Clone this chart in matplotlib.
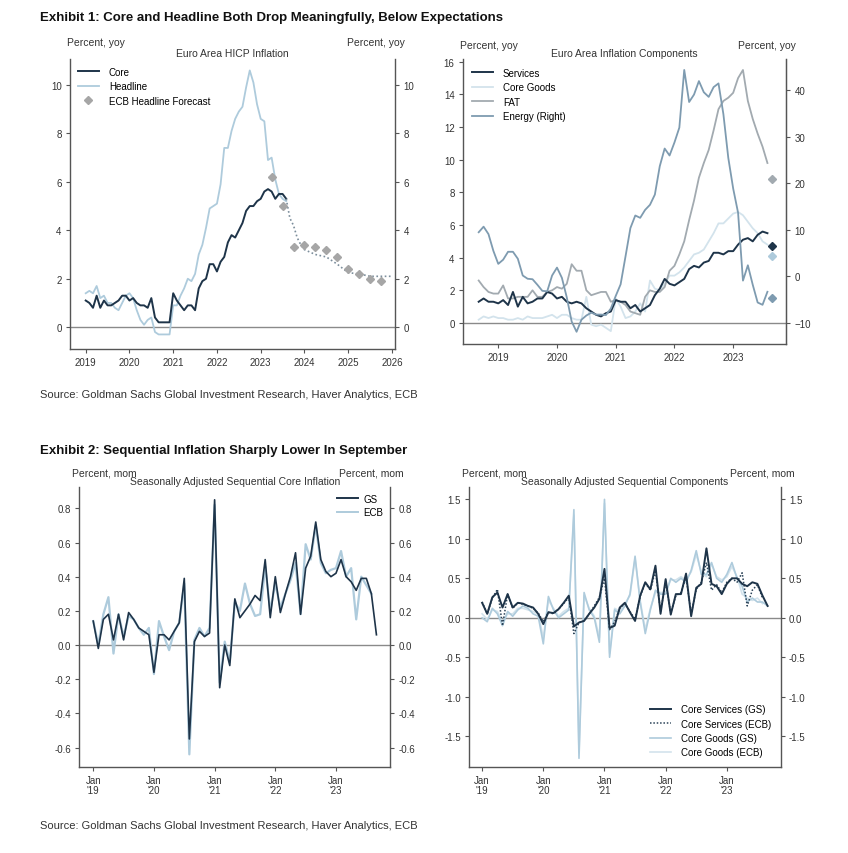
import numpy as np
import matplotlib.pyplot as plt
from matplotlib.lines import Line2D
from matplotlib.ticker import FormatStrFormatter

plt.rcParams['font.family'] = ['Liberation Sans', 'DejaVu Sans']

DARK = '#1e3449'
LIGHT = '#aecbdc'
PALE = '#d3e3ec'
GRAY = '#a6a6a6'
SPINE = '#555555'

# ---------------- Exhibit 1 left: Euro Area HICP, % yoy, monthly from Jan 2019
core = [1.1, 1.0, 0.8, 1.3, 0.8, 1.1, 0.9, 0.9, 1.0, 1.1, 1.3, 1.3,
        1.1, 1.2, 1.0, 0.9, 0.9, 0.8, 1.2, 0.4, 0.2, 0.2, 0.2, 0.2,
        1.4, 1.1, 0.9, 0.7, 0.9, 0.9, 0.7, 1.6, 1.9, 2.0, 2.6, 2.6,
        2.3, 2.7, 2.9, 3.5, 3.8, 3.7, 4.0, 4.3, 4.8, 5.0, 5.0, 5.2,
        5.3, 5.6, 5.7, 5.6, 5.3, 5.5, 5.5, 5.3]
headline = [1.4, 1.5, 1.4, 1.7, 1.2, 1.3, 1.0, 1.0, 0.8, 0.7, 1.0, 1.3,
            1.4, 1.2, 0.7, 0.3, 0.1, 0.3, 0.4, -0.2, -0.3, -0.3, -0.3, -0.3,
            0.9, 0.9, 1.3, 1.6, 2.0, 1.9, 2.2, 3.0, 3.4, 4.1, 4.9, 5.0,
            5.1, 5.9, 7.4, 7.4, 8.1, 8.6, 8.9, 9.1, 9.9, 10.6, 10.1, 9.2,
            8.6, 8.5, 6.9, 7.0, 6.1, 5.5, 5.3, 5.2]
# dotted projection path following the actuals
proj_x = [2023.583, 2023.667, 2023.75, 2023.833, 2023.917, 2024.0, 2024.25,
          2024.5, 2024.75, 2025.0, 2025.25, 2025.5, 2025.75, 2026.0]
proj = [5.3, 4.5, 4.2, 3.7, 3.4, 3.2, 3.0, 2.9, 2.6, 2.25, 2.2, 2.1, 2.1, 2.1]
ecb_fc_x = [2023.25, 2023.5, 2023.75, 2024.0, 2024.25, 2024.5, 2024.75,
            2025.0, 2025.25, 2025.5, 2025.75]
ecb_fc = [6.2, 5.0, 3.3, 3.4, 3.3, 3.2, 2.9, 2.4, 2.2, 2.0, 1.9]

# ---------------- Exhibit 1 right: components, % yoy, monthly from Sep 2018
services = [1.3, 1.5, 1.3, 1.3,
            1.2, 1.4, 1.1, 1.9, 1.0, 1.6, 1.2, 1.3, 1.5, 1.5, 1.9, 1.8,
            1.5, 1.6, 1.3, 1.2, 1.3, 1.2, 0.9, 0.7, 0.5, 0.4, 0.6, 0.7,
            1.4, 1.3, 1.3, 0.9, 1.1, 0.7, 0.9, 1.1, 1.7, 2.1, 2.7, 2.4,
            2.3, 2.5, 2.7, 3.3, 3.5, 3.4, 3.7, 3.8, 4.3, 4.3, 4.2, 4.4,
            4.4, 4.8, 5.1, 5.2, 5.0, 5.4, 5.6, 5.5]
core_goods = [0.2, 0.4, 0.3, 0.4,
              0.3, 0.3, 0.2, 0.2, 0.3, 0.2, 0.4, 0.3, 0.3, 0.3, 0.4, 0.5,
              0.3, 0.5, 0.5, 0.3, 0.2, 0.2, 1.6, -0.1, -0.2, -0.1, -0.3, -0.5,
              1.5, 1.0, 0.3, 0.4, 0.7, 1.2, 0.7, 2.6, 2.1, 2.0, 2.4, 2.9,
              2.9, 3.1, 3.4, 3.8, 4.2, 4.3, 4.5, 5.0, 5.5, 6.1, 6.1, 6.4,
              6.7, 6.8, 6.6, 6.2, 5.8, 5.5, 5.0, 4.8]
fat = [2.6, 2.2, 1.9, 1.8,
       1.8, 2.3, 1.5, 1.5, 1.6, 1.6, 1.6, 2.0, 1.6, 1.6, 1.9, 2.0,
       2.2, 2.1, 2.4, 3.6, 3.2, 3.2, 2.0, 1.7, 1.8, 1.9, 1.9, 1.3,
       1.4, 1.3, 1.1, 0.7, 0.6, 0.5, 1.6, 2.0, 1.9, 1.9, 2.2, 3.2,
       3.5, 4.2, 5.0, 6.3, 7.5, 8.9, 9.8, 10.6, 11.8, 13.1, 13.6, 13.8,
       14.1, 15.0, 15.5, 13.6, 12.5, 11.6, 10.8, 9.8]
energy = [9.5, 10.7, 9.1, 5.5,
          2.7, 3.6, 5.3, 5.3, 3.8, 0.2, -0.5, -0.6, -1.8, -3.1, -3.2, 0.2,
          1.9, -0.3, -4.5, -9.7, -11.9, -9.3, -8.4, -7.8, -8.2, -8.2, -8.3, -6.9,
          -4.2, -1.7, 4.3, 10.4, 13.1, 12.6, 14.3, 15.4, 17.6, 23.7, 27.5, 26.0,
          28.8, 32.0, 44.4, 37.5, 39.1, 42.0, 39.6, 38.6, 40.7, 41.5, 34.9, 25.5,
          18.9, 13.7, -0.9, 2.4, -1.8, -5.6, -6.1, -3.3]
# September flash estimates (diamonds)
flash_x = 2023.667
flash_services, flash_goods, flash_fat, flash_energy = 4.7, 4.1, 8.8, -4.7

# ---------------- Exhibit 2 left: SA sequential core, % mom, from Jan 2019
seq_gs = [0.14, -0.02, 0.15, 0.18, 0.03, 0.18, 0.03, 0.19, 0.15, 0.10, 0.08, 0.06,
          -0.16, 0.06, 0.06, 0.03, 0.08, 0.13, 0.39, -0.55, 0.02, 0.08, 0.05, 0.07,
          0.85, -0.25, 0.00, -0.12, 0.27, 0.16, 0.20, 0.24, 0.29, 0.26, 0.50, 0.16,
          0.40, 0.19, 0.30, 0.40, 0.54, 0.18, 0.45, 0.52, 0.72, 0.50, 0.43, 0.40,
          0.42, 0.50, 0.40, 0.37, 0.32, 0.39, 0.39, 0.30, 0.06]
seq_ecb = [0.14, 0.00, 0.18, 0.28, -0.05, 0.18, 0.05, 0.17, 0.15, 0.10, 0.06, 0.10,
           -0.17, 0.14, 0.05, -0.03, 0.08, 0.13, 0.36, -0.64, 0.03, 0.10, 0.05, 0.10,
           0.82, -0.22, 0.02, -0.10, 0.25, 0.20, 0.36, 0.24, 0.17, 0.18, 0.46, 0.20,
           0.36, 0.22, 0.30, 0.38, 0.48, 0.18, 0.59, 0.50, 0.70, 0.48, 0.42, 0.44,
           0.45, 0.55, 0.40, 0.45, 0.15, 0.40, 0.35, 0.30]

# ---------------- Exhibit 2 right: SA sequential components, % mom, from Jan 2019
serv_gs = [0.19, 0.05, 0.26, 0.32, 0.13, 0.30, 0.13, 0.19, 0.18, 0.15, 0.13, 0.05,
           -0.08, 0.07, 0.06, 0.11, 0.19, 0.28, -0.11, -0.06, -0.04, 0.05, 0.13, 0.24,
           0.62, -0.13, -0.10, 0.13, 0.19, 0.07, -0.04, 0.28, 0.45, 0.36, 0.66, 0.05,
           0.49, 0.04, 0.30, 0.30, 0.56, 0.02, 0.38, 0.43, 0.88, 0.43, 0.40, 0.30,
           0.43, 0.50, 0.50, 0.43, 0.40, 0.45, 0.43, 0.28, 0.15]
serv_ecb = [0.20, 0.05, 0.25, 0.36, -0.10, 0.30, 0.12, 0.19, 0.17, 0.15, 0.12, 0.06,
            -0.05, 0.07, 0.05, 0.11, 0.18, 0.26, -0.20, -0.06, -0.04, 0.05, 0.15, 0.26,
            0.50, -0.15, -0.05, 0.12, 0.18, 0.08, -0.02, 0.27, 0.44, 0.35, 0.60, 0.08,
            0.45, 0.06, 0.28, 0.32, 0.52, 0.05, 0.36, 0.45, 0.70, 0.35, 0.42, 0.32,
            0.45, 0.50, 0.45, 0.57, 0.15, 0.35, 0.42, 0.25]
goods_gs = [0.00, -0.05, 0.12, 0.05, -0.10, 0.08, 0.02, 0.10, 0.15, 0.12, 0.05, 0.02,
            -0.33, 0.27, 0.10, 0.00, 0.05, 0.10, 1.37, -1.78, 0.32, 0.10, 0.00, -0.31,
            1.50, -0.50, 0.10, 0.05, 0.15, 0.30, 0.78, 0.20, -0.20, 0.10, 0.35, 0.30,
            0.30, 0.50, 0.45, 0.50, 0.45, 0.60, 0.85, 0.55, 0.55, 0.70, 0.50, 0.45,
            0.55, 0.70, 0.50, 0.40, 0.20, 0.25, 0.20, 0.20, 0.15]
goods_ecb = [0.05, -0.02, 0.10, 0.08, -0.05, 0.05, 0.05, 0.12, 0.12, 0.10, 0.08, 0.05,
             -0.25, 0.22, 0.12, 0.02, 0.08, 0.12, 1.30, -1.70, 0.28, 0.12, 0.02, -0.25,
             1.45, -0.45, 0.12, 0.08, 0.18, 0.28, 0.75, 0.22, -0.15, 0.12, 0.32, 0.32,
             0.32, 0.48, 0.48, 0.52, 0.48, 0.58, 0.80, 0.58, 0.52, 0.68, 0.52, 0.48,
             0.52, 0.65, 0.52, 0.30, 0.25, 0.22, 0.25, 0.18]


def monthly(start, n):
    return start + np.arange(n) / 12.0


def style_axes(ax, ylim, yticks, fmt, mirror=True):
    ax.set_ylim(*ylim)
    ax.set_yticks(yticks)
    ax.yaxis.set_major_formatter(FormatStrFormatter(fmt))
    ax.spines['top'].set_visible(False)
    for s in ['left', 'right', 'bottom']:
        ax.spines[s].set_color(SPINE)
        ax.spines[s].set_linewidth(1.0)
    ax.tick_params(direction='out', length=3, width=0.8, color=SPINE,
                   labelsize=7, labelcolor='#333333', pad=3)
    if mirror:
        ax.tick_params(axis='y', right=True, labelright=True)
    ax.axhline(0, color='#8a8a8a', lw=1.0, zorder=1)


def header(ax, title, unit, dy):
    ax.text(0.5, 1.005, title, transform=ax.transAxes, ha='center', va='bottom',
            fontsize=7.5, color='#333333')
    ax.text(0.08, 1.0 + dy, unit, transform=ax.transAxes, ha='center',
            va='center', fontsize=7.5, color='#333333')
    ax.text(0.94, 1.0 + dy, unit, transform=ax.transAxes, ha='center',
            va='center', fontsize=7.5, color='#333333')


fig = plt.figure(figsize=(8.48, 8.54), dpi=100)

# ---------- top left
ax = fig.add_axes([0.0825, 0.5902, 0.3833, 0.3395])
x = monthly(2019.0, len(headline))
ax.plot(x, headline, color=LIGHT, lw=1.3, zorder=3)
ax.plot(monthly(2019.0, len(core)), core, color=DARK, lw=1.4, zorder=4)
ax.plot(proj_x, proj, color='#7b8d9b', lw=1.2, ls=(0, (1, 1.5)), zorder=4)
ax.plot(ecb_fc_x, ecb_fc, ls='none', marker='D', ms=4.5, color=GRAY,
        mec=GRAY, zorder=5)
ax.set_xlim(2018.64, 2026.07)
ax.set_xticks(np.arange(2019, 2027))
ax.set_xticklabels([str(y) for y in range(2019, 2027)])
style_axes(ax, (-0.9, 11.07), [0, 2, 4, 6, 8, 10], '%d')
header(ax, 'Euro Area HICP Inflation', 'Percent, yoy', 0.058)
h = [Line2D([], [], color=DARK, lw=1.4),
     Line2D([], [], color=LIGHT, lw=1.3),
     Line2D([], [], ls='none', marker='D', ms=4, color=GRAY)]
ax.legend(h, ['Core', 'Headline', 'ECB Headline Forecast'], loc='upper left',
          bbox_to_anchor=(0.0, 1.0), frameon=False, fontsize=7,
          handlelength=2.2, handletextpad=1.0, labelspacing=0.45,
          borderaxespad=0.4)

# ---------- top right
ax = fig.add_axes([0.546, 0.596, 0.3809, 0.3337])
xc = monthly(2018.667, len(services))
ax.plot(xc, core_goods, color=PALE, lw=1.3, zorder=3)
ax.plot(xc, fat, color='#a2aab0', lw=1.3, zorder=3)
ax.plot(xc, services, color=DARK, lw=1.4, zorder=4)
ax.plot([flash_x], [flash_fat], 'D', ms=4, color='#a2aab0')
ax.plot([flash_x], [flash_goods], 'D', ms=4, color=LIGHT)
ax.plot([flash_x], [flash_services], 'D', ms=4.5, color=DARK, zorder=6)
ax.set_xlim(2018.40, 2023.90)
ax.set_xticks(np.arange(2019, 2024))
ax.set_xticklabels([str(y) for y in range(2019, 2024)])
style_axes(ax, (-1.29, 16.17), np.arange(0, 17, 2), '%d', mirror=False)
ax2 = ax.twinx()
ax2.plot(xc, energy, color='#7e9bb0', lw=1.3, zorder=3)
ax2.plot([flash_x], [flash_energy], 'D', ms=4, color='#7e9bb0')
ax2.set_ylim(-14.53, 46.74)
ax2.set_yticks([-10, 0, 10, 20, 30, 40])
for s in ['top', 'left', 'bottom']:
    ax2.spines[s].set_visible(False)
ax2.spines['right'].set_color(SPINE)
ax2.tick_params(direction='out', length=3, width=0.8, color=SPINE,
                labelsize=7, labelcolor='#333333', pad=3)
header(ax, 'Euro Area Inflation Components', 'Percent, yoy', 0.05)
h = [Line2D([], [], color=DARK, lw=1.4),
     Line2D([], [], color=PALE, lw=1.3),
     Line2D([], [], color='#a2aab0', lw=1.3),
     Line2D([], [], color='#7e9bb0', lw=1.3)]
ax.legend(h, ['Services', 'Core Goods', 'FAT', 'Energy (Right)'],
          loc='upper left', bbox_to_anchor=(0.0, 1.0), frameon=False,
          fontsize=7, handlelength=2.2, handletextpad=1.0, labelspacing=0.45,
          borderaxespad=0.5)

jan_labels = ["Jan\n'%d" % (y - 2000) for y in range(2019, 2024)]

# ---------- bottom left
ax = fig.add_axes([0.0935, 0.1007, 0.3664, 0.3279])
ax.plot(monthly(2019.0, len(seq_ecb)), seq_ecb, color=LIGHT, lw=1.6, zorder=3)
ax.plot(monthly(2019.0, len(seq_gs)), seq_gs, color=DARK, lw=1.2, zorder=4)
ax.set_xlim(2018.77, 2023.89)
ax.set_xticks(np.arange(2019, 2024))
ax.set_xticklabels(jan_labels, linespacing=1.0)
style_axes(ax, (-0.714, 0.925), [-0.6, -0.4, -0.2, 0.0, 0.2, 0.4, 0.6, 0.8],
           '%.1f')
header(ax, 'Seasonally Adjusted Sequential Core Inflation', 'Percent, mom', 0.05)
h = [Line2D([], [], color=DARK, lw=1.4), Line2D([], [], color=LIGHT, lw=1.4)]
ax.legend(h, ['GS', 'ECB'], loc='upper right', bbox_to_anchor=(1.0, 1.0),
          frameon=False, fontsize=7, handlelength=2.2, handletextpad=0.5,
          labelspacing=0.35, borderaxespad=0.3)

# ---------- bottom right
ax = fig.add_axes([0.5534, 0.1007, 0.3672, 0.3279])
ax.plot(monthly(2019.0, len(goods_ecb)), goods_ecb, color=PALE, lw=1.2, zorder=2)
ax.plot(monthly(2019.0, len(goods_gs)), goods_gs, color=LIGHT, lw=1.2, zorder=3)
ax.plot(monthly(2019.0, len(serv_ecb)), serv_ecb, color='#2b4358', lw=1.1,
        ls=(0, (1, 1.2)), zorder=4)
ax.plot(monthly(2019.0, len(serv_gs)), serv_gs, color=DARK, lw=1.4, zorder=5)
ax.set_xlim(2018.79, 2023.88)
ax.set_xticks(np.arange(2019, 2024))
ax.set_xticklabels(jan_labels, linespacing=1.0)
style_axes(ax, (-1.89, 1.657), [-1.5, -1.0, -0.5, 0.0, 0.5, 1.0, 1.5], '%.1f')
header(ax, 'Seasonally Adjusted Sequential Components', 'Percent, mom', 0.05)
h = [Line2D([], [], color=DARK, lw=1.4),
     Line2D([], [], color='#2b4358', lw=1.1, ls=(0, (1, 1.2))),
     Line2D([], [], color=LIGHT, lw=1.2),
     Line2D([], [], color=PALE, lw=1.2)]
ax.legend(h, ['Core Services (GS)', 'Core Services (ECB)', 'Core Goods (GS)',
              'Core Goods (ECB)'], loc='lower right', bbox_to_anchor=(1.0, 0.0),
          frameon=False, fontsize=7, handlelength=2.2, handletextpad=1.0,
          labelspacing=0.45, borderaxespad=0.6)

# ---------- figure text
fig.text(40 / 848, 1 - 18 / 854,
         'Exhibit 1: Core and Headline Both Drop Meaningfully, Below Expectations',
         fontsize=9.5, fontweight='bold', va='center', color='#111111')
fig.text(40 / 848, 1 - 451 / 854,
         'Exhibit 2: Sequential Inflation Sharply Lower In September',
         fontsize=9.5, fontweight='bold', va='center', color='#111111')
src = 'Source: Goldman Sachs Global Investment Research, Haver Analytics, ECB'
fig.text(40 / 848, 1 - 395 / 854, src, fontsize=8, va='center', color='#333333')
fig.text(40 / 848, 1 - 826 / 854, src, fontsize=8, va='center', color='#333333')

fig.savefig('out.png', dpi=100)
